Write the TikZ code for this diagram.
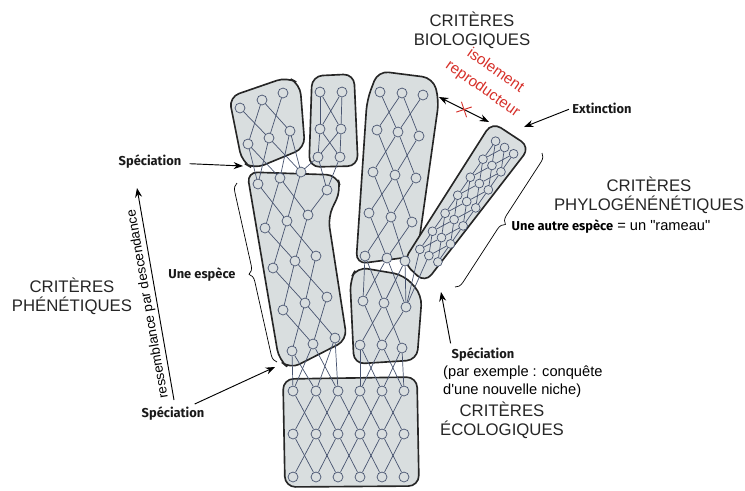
\documentclass[tikz,border=0pt]{standalone}
\usepackage{fontspec}
\setmainfont{Liberation Sans}
\newfontfamily\handfont{Fira Sans}
\usetikzlibrary{arrows.meta,decorations.pathreplacing,shapes.misc}

\definecolor{blockfill}{RGB}{217,222,223}
\definecolor{linkcol}{RGB}{72,84,112}
\definecolor{outline}{RGB}{38,38,38}
\definecolor{redtxt}{RGB}{214,48,42}

\tikzset{
  blk/.style={draw=outline, line width=1.4pt, fill=blockfill, rounded corners=9pt},
  cel/.style={circle, draw=linkcol, fill=blockfill, line width=0.6pt, inner sep=0pt, minimum size=8.5pt},
  lnk/.style={draw=linkcol, line width=0.6pt},
  crit/.style={font=\fontsize{14.3}{16.5}\selectfont, align=center, inner sep=0pt, text=black!85},
  hand/.style={font=\handfont\bfseries\fontsize{11}{13}\selectfont, inner sep=0pt, text=black!90},
  arr/.style={-{Stealth[length=8pt,width=6pt]}, line width=0.8pt},
  darr/.style={{Stealth[length=8pt,width=6pt]}-{Stealth[length=8pt,width=6pt]}, line width=0.8pt},
  accolade/.style={decorate, decoration={brace, amplitude=7pt}, line width=0.6pt}
}

\begin{document}
\begin{tikzpicture}[x=0.03cm, y=-0.03cm]
\useasboundingbox (0,0) rectangle (745,490);

% les especes
\draw[blk] (229,97) -- (287,77) -- (300,84) -- (305,148) -- (254,169) -- (242,162) -- cycle;
\draw[blk] (312,76) -- (354,74) -- (358,166) -- (309,167) -- cycle;
\draw[blk] (378,71) -- (433,78) -- (439,100) -- (417,256) -- (356,264) -- (367,100) -- cycle;
\draw[blk] (492,122) -- (530,147) -- (425,283) -- (403,262) -- cycle;
\draw[blk] (247,172) -- (337,175) -- (341,190) -- (328,217) -- (347,340) -- (290,369) -- (279,360) -- cycle;
\draw[blk] (357,267) -- (404,275) -- (422,295) -- (417,360) -- (354,364) -- (350,280) -- cycle;
\draw[blk] (283,379) -- (417,377) -- (419,486) -- (285,487) -- cycle;

% individus
\foreach \x/\y [count=\i] in {240/108, 262/100, 283/93} \node[cel] (b1-1-\i) at (\x,\y) {};
\foreach \x/\y [count=\i] in {248/144, 269/138, 290/131} \node[cel] (b1-2-\i) at (\x,\y) {};

\foreach \x/\y [count=\i] in {320/92, 342/92} \node[cel] (b2-1-\i) at (\x,\y) {};
\foreach \x/\y [count=\i] in {320/129, 341/129} \node[cel] (b2-2-\i) at (\x,\y) {};
\foreach \x/\y [count=\i] in {318/157, 340/157} \node[cel] (b2-3-\i) at (\x,\y) {};

\foreach \x/\y [count=\i] in {380/92, 402/93, 423/95} \node[cel] (b3-1-\i) at (\x,\y) {};
\foreach \x/\y [count=\i] in {377/130, 398/132, 419/136} \node[cel] (b3-2-\i) at (\x,\y) {};
\foreach \x/\y [count=\i] in {373/172, 395/175, 416/178} \node[cel] (b3-3-\i) at (\x,\y) {};
\foreach \x/\y [count=\i] in {369/213, 391/217, 412/222} \node[cel] (b3-4-\i) at (\x,\y) {};
\foreach \x/\y [count=\i] in {365/256, 387/258, 405/261} \node[cel] (b3-5-\i) at (\x,\y) {};

\begin{scope}[shift={(465,204)}, rotate=-35]
\foreach \r in {1,...,7}
  \foreach \c in {1,2,3}
    \node[cel, minimum size=7.5pt] (b4-\r-\c) at ({(\c-2)*11},{-69+(\r-1)*22}) {};
\end{scope}

\foreach \x/\y [count=\i] in {258/184, 280/178, 301/172, 327/190} \node[cel] (b6-1-\i) at (\x,\y) {};
\foreach \x/\y [count=\i] in {265/228, 287/221, 308/215} \node[cel] (b6-2-\i) at (\x,\y) {};
\foreach \x/\y [count=\i] in {273/268, 295/261, 316/256} \node[cel] (b6-3-\i) at (\x,\y) {};
\foreach \x/\y [count=\i] in {283/310, 305/303, 327/297} \node[cel] (b6-4-\i) at (\x,\y) {};
\foreach \x/\y [count=\i] in {292/351, 313/344, 335/338} \node[cel] (b6-5-\i) at (\x,\y) {};

\foreach \x/\y [count=\i] in {363/301, 384/303, 406/307} \node[cel] (b5-1-\i) at (\x,\y) {};
\foreach \x/\y [count=\i] in {360/345, 382/345, 402/348} \node[cel] (b5-2-\i) at (\x,\y) {};

\foreach \y [count=\r] in {391,434,477}
  \foreach \x [count=\c] in {293,316,338,360,382,404}
    \node[cel] (b7-\r-\c) at (\x,\y) {};

% liens de parente
\foreach \i/\j in {1/2,2/1,2/3,3/2} \draw[lnk] (b1-1-\i) -- (b1-2-\j);
\foreach \r/\s in {1/2,2/3} \foreach \i/\j in {1/1,1/2,2/1,2/2} \draw[lnk] (b2-\r-\i) -- (b2-\s-\j);
\foreach \r/\s in {1/2,2/3,3/4,4/5} \foreach \i/\j in {1/2,2/1,2/3,3/2} \draw[lnk] (b3-\r-\i) -- (b3-\s-\j);
\foreach \r/\s in {1/2,2/3,3/4,4/5,5/6,6/7} \foreach \i/\j in {1/1,1/2,2/1,2/3,3/2,3/3} \draw[lnk] (b4-\r-\i) -- (b4-\s-\j);
\foreach \r/\s in {1/2,2/3,3/4,4/5} \foreach \i/\j in {1/2,2/1,2/3,3/2} \draw[lnk] (b6-\r-\i) -- (b6-\s-\j);
\draw[lnk] (b6-1-4) -- (b6-2-3);
\foreach \i/\j in {1/2,2/1,2/3,3/2} \draw[lnk] (b5-1-\i) -- (b5-2-\j);
\foreach \r/\s in {1/2,2/3} \foreach \i/\j in {1/2,2/1,2/3,3/2,3/4,4/3,4/5,5/4,5/6,6/5} \draw[lnk] (b7-\r-\i) -- (b7-\s-\j);

\foreach \i/\j in {1/1,1/2,2/1,2/3,3/2,3/3} \draw[lnk] (b1-2-\i) -- (b6-1-\j);
\foreach \i/\j in {1/3,1/4,2/4} \draw[lnk] (b2-3-\i) -- (b6-1-\j);
\foreach \i/\j in {1/1,1/2,2/1,2/3,3/2,3/3} \draw[lnk] (b3-5-\i) -- (b5-1-\j);
\foreach \i in {1,2} \draw[lnk] (b4-7-\i) -- (b5-1-3);
\foreach \i/\j in {1/1,1/2,2/1,2/3,3/2,3/3} \draw[lnk] (b6-5-\i) -- (b7-1-\j);
\foreach \i/\j in {1/4,1/5,2/4,2/6,3/5,3/6} \draw[lnk] (b5-2-\i) -- (b7-1-\j);

% criteres
\node[crit] (bio) at (472,30) {CRITÈRES\\BIOLOGIQUES};
\node[crit] (phe) at (72,296) {CRITÈRES\\PHÉNÉTIQUES};
\node[crit] (phy) at (649,195) {CRITÈRES\\PHYLOGÉNÉNÉTIQUES};
\node[crit] (eco) at (502,420) {CRITÈRES\\ÉCOLOGIQUES};

\node[rotate=-35, text=redtxt, font=\fontsize{13}{19}\selectfont, align=center, inner sep=0pt] (iso) at (489,80) {isolement\\reproducteur};
\coordinate (b3e) at (439,97);
\coordinate (b4n) at (489,122);
\draw[darr] (b3e) -- node[cross out, draw=redtxt, sloped, minimum size=9pt, line width=0.8pt] (barre) {} (b4n);

\node[hand] (ext) at (602,108) {Extinction};
\coordinate (t4) at (524,127);
\draw[arr, shorten <=3pt] (ext.west) -- (t4);

\node[hand] (sp1) at (150,162) {Spéciation};
\coordinate (t1) at (243,166);
\draw[arr, shorten <=7pt] (sp1) -- (t1);

\node[hand] (esp) at (202,275) {Une espèce};
\coordinate (e1) at (277,362);
\coordinate (e2) at (237,183);
\draw[accolade] (e1) -- (e2);

\node[hand] (sp2) at (173,414) {Spéciation};
\coordinate (t2) at (275,367);
\draw[arr, shorten <=6pt] (sp2) -- (t2);

\coordinate (rb) at (174,400);
\coordinate (rt) at (137,188);
\draw[arr] (rb) -- node[sloped, allow upside down, above, pos=0.46, font=\fontsize{11.5}{13}\selectfont, inner sep=2pt] (ress) {ressemblance par descendance} (rt);

\coordinate (e3) at (542,153);
\coordinate (e4) at (455,287);
\draw[accolade] (e3) -- (e4);
\node[inner sep=0pt, font=\fontsize{12.5}{15}\selectfont] (rameau) at (611,227) {{\handfont\bfseries\fontsize{11}{13}\selectfont Une autre espèce} = un \textquotedbl rameau\textquotedbl};

\node[hand] (sp3) at (483,355) {Spéciation};
\coordinate (t3) at (441,292);
\draw[arr, shorten <=4pt] (sp3.north west) -- (t3);
\node[font=\fontsize{12.5}{15}\selectfont, align=left, anchor=north west, inner sep=0pt] (niche) at (443,366) {(par exemple : conquête\\d\textquotesingle une nouvelle niche)};
\end{tikzpicture}
\end{document}
